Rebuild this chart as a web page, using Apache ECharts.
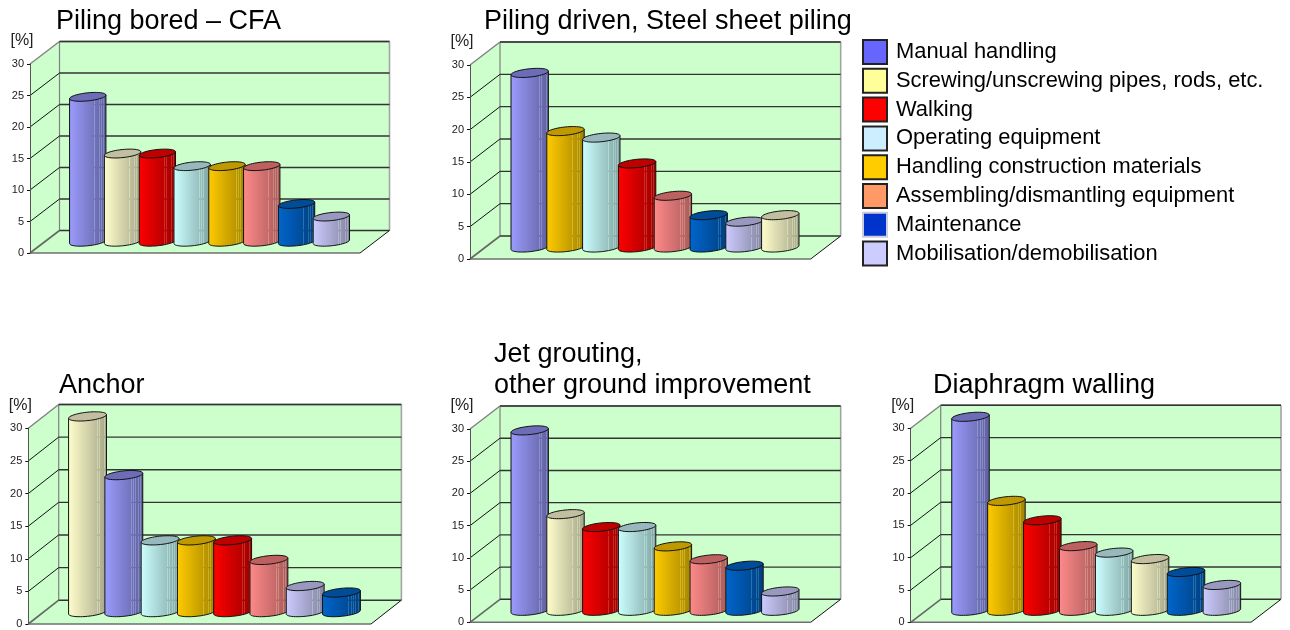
<!DOCTYPE html>
<html>
<head>
<meta charset="utf-8">
<title>Accident share by task</title>
<style>
  html, body { margin: 0; padding: 0; background: #fff; }
  #chart { width: 1290px; height: 630px; }
</style>
<script src="https://cdn.jsdelivr.net/npm/echarts@6/dist/echarts.min.js"></script>
</head>
<body>
<div id="chart"></div>
<script>
  const tasks = [
    "Manual handling",
    "Screwing/unscrewing pipes, rods, etc.",
    "Walking",
    "Operating equipment",
    "Handling construction materials",
    "Assembling/dismantling equipment",
    "Maintenance",
    "Mobilisation/demobilisation"
  ];
  const yTicks = [0, 5, 10, 15, 20, 25, 30];

  const titles = [
    "Piling bored – CFA",
    "Piling driven, Steel sheet piling",
    "Anchor",
    "Jet grouting,\nother ground improvement",
    "Diaphragm walling"
  ];

  // task index of each bar, left to right
  const pilingBoredOrder = [0, 1, 2, 3, 4, 5, 6, 7];
  const pilingDrivenOrder = [0, 4, 3, 2, 5, 6, 7, 1];
  const anchorOrder = [1, 0, 3, 4, 2, 5, 7, 6];
  const jetGroutingOrder = [0, 1, 2, 3, 4, 5, 6, 7];
  const diaphragmOrder = [0, 4, 2, 5, 3, 1, 6, 7];

  const pilingBoredValues = [23, 14, 14, 12, 12, 12, 6, 4];
  const pilingDrivenValues = [27, 18, 17, 13, 8, 5, 4, 5];
  const anchorValues = [30, 21, 11, 11, 11, 8, 4, 3];
  const jetGroutingValues = [28, 15, 13, 13, 10, 8, 7, 3];
  const diaphragmValues = [30, 17, 14, 10, 9, 8, 6, 4];

  const panelOrders = [pilingBoredOrder, pilingDrivenOrder, anchorOrder, jetGroutingOrder, diaphragmOrder];
  const panelValues = [pilingBoredValues, pilingDrivenValues, anchorValues, jetGroutingValues, diaphragmValues];

  // front plane of each 3d box, depth offset, and where the row of bars sits
  const boxes = [
    { left: 30, top: 64, width: 330, height: 189, dx: 29.5, dy: -22.5, barLeft: 70.35, barWidth: 278.4, titleLeft: 56, titleTop: 6 },
    { left: 470, top: 65, width: 340.7, height: 194, dx: 30, dy: -23, barLeft: 511.8, barWidth: 286.4, titleLeft: 484, titleTop: 6 },
    { left: 28.3, top: 428.3, width: 342.7, height: 195.7, dx: 30.4, dy: -23.8, barLeft: 69.4, barWidth: 290.2, titleLeft: 59, titleTop: 370 },
    { left: 470, top: 429, width: 340.7, height: 193.3, dx: 30, dy: -23, barLeft: 511.8, barWidth: 286.4, titleLeft: 494, titleTop: 339 },
    { left: 910.7, top: 428.3, width: 340.3, height: 194, dx: 30, dy: -23, barLeft: 952.55, barWidth: 287.3, titleLeft: 933, titleTop: 370 }
  ];

  // side colour at left and right edge, and lid colour
  const barColors = [
    ["#9c9cff", "#5f5f9e", "#6c6cb8"],
    ["#ffffcc", "#a5a58a", "#c2bfa0"],
    ["#ff0000", "#9c0000", "#bf0000"],
    ["#ccffff", "#80a2a2", "#97b9bd"],
    ["#ffcc00", "#a38300", "#bf9900"],
    ["#ff8a8a", "#a85a5a", "#bf6060"],
    ["#0066cc", "#003f7f", "#004c99"],
    ["#ccccff", "#83839f", "#9999bf"]
  ];
  const legendColors = ["#6666ff", "#ffff99", "#ff0000", "#cceeff", "#ffcc00", "#ff9966", "#0033cc", "#ccccff"];

  const FONT = "Liberation Sans";
  const WALL = "#ccffcc";
  const TILT = -6 * Math.PI / 180;

  const sideGradient = (left, right) => {
    const mix = t => echarts.color.lerp(t, [left, right]);
    const stops = [{ offset: 0, color: left }];
    // the original render has pale see-through bands on the right part of the cylinder
    [0.68, 0.74, 0.8, 0.86, 0.92].forEach(p => {
      const band = echarts.color.modifyAlpha(echarts.color.lift(mix(p), -0.1), 0.82);
      stops.push({ offset: p, color: mix(p) });
      stops.push({ offset: p, color: band });
      stops.push({ offset: p + 0.02, color: band });
      stops.push({ offset: p + 0.02, color: mix(p + 0.02) });
    });
    stops.push({ offset: 1, color: right });
    return { type: "linear", x: 0, y: 0, x2: 1, y2: 0, colorStops: stops };
  };

  const ellipsePoint = (cx, cy, a, b, t) => [
    cx + a * Math.cos(t) * Math.cos(TILT) - b * Math.sin(t) * Math.sin(TILT),
    cy + a * Math.cos(t) * Math.sin(TILT) + b * Math.sin(t) * Math.cos(TILT)
  ];

  const renderWalls = box => (params, api) => {
    const p00 = api.coord([0, 0]);
    const p10 = api.coord([1, 0]);
    const p01 = api.coord([0, 30]);
    const p11 = api.coord([1, 30]);
    const back = p => [p[0] + box.dx, p[1] + box.dy];
    const fill = points => ({ type: "polygon", shape: { points }, style: { fill: WALL, stroke: null } });
    const line = (a, b, stroke, lineWidth) => ({
      type: "line",
      shape: { x1: a[0], y1: a[1], x2: b[0], y2: b[1] },
      style: { stroke, lineWidth }
    });
    return {
      type: "group",
      children: [
        fill([p00, p01, back(p01), back(p00)]),
        fill([back(p00), back(p01), back(p11), back(p10)]),
        fill([p00, back(p00), back(p10), p10]),
        line(back(p00), back(p01), "#808080", 1.2),
        line(back(p01), back(p11), "#7c7c7c", 1.6),
        line(back(p11), back(p10), "#a4a4a4", 1.6),
        line(p00, p10, "#6f6f6f", 1.6),
        line(p10, back(p10), "#111", 1),
        line(p01, back(p01), "#808080", 1.4),
        line(p00, back(p00), "#666", 1.6)
      ]
    };
  };

  const renderWallLines = box => (params, api) => {
    const tick = api.value(0);
    const start = api.coord([0, tick]);
    const end = api.coord([1, tick]);
    const back = [start[0] + box.dx, start[1] + box.dy];
    const backEnd = [end[0] + box.dx, end[1] + box.dy];
    const children = [{
      type: "line",
      shape: { x1: back[0], y1: back[1], x2: backEnd[0], y2: backEnd[1] },
      style: { stroke: "#333", lineWidth: 1.4 }
    }];
    if (tick > 0 && tick < 30) {
      children.push({
        type: "line",
        shape: { x1: start[0], y1: start[1], x2: back[0], y2: back[1] },
        style: { stroke: "#111", lineWidth: 1 }
      });
    }
    return { type: "group", children };
  };

  const renderCylinder = order => (params, api) => {
    const slot = api.value(0);
    const colors = barColors[order[slot]];
    const top = api.coord([slot, api.value(1)]);
    const base = api.coord([slot, 0]);
    const a = api.size([1, 0])[0] * 0.525;
    const b = a * 0.22;
    const edge = Math.atan2(-b * Math.sin(TILT), a * Math.cos(TILT));

    const side = [];
    for (let i = 0; i <= 24; i++) {
      side.push(ellipsePoint(base[0], base[1], a, b, edge + Math.PI - Math.PI * i / 24));
    }
    side.push(ellipsePoint(top[0], top[1], a, b, edge));
    side.push(ellipsePoint(top[0], top[1], a, b, edge + Math.PI));

    const lid = [];
    for (let i = 0; i < 48; i++) {
      lid.push(ellipsePoint(top[0], top[1], a, b, i / 48 * Math.PI * 2));
    }

    return {
      type: "group",
      children: [
        { type: "polygon", shape: { points: side }, style: { fill: sideGradient(colors[0], colors[1]), stroke: "#111", lineWidth: 1 } },
        { type: "polygon", shape: { points: lid }, style: { fill: colors[2], stroke: "#111", lineWidth: 1 } }
      ]
    };
  };

  const grid = [];
  const xAxis = [];
  const yAxis = [];
  const series = [];

  boxes.forEach((box, i) => {
    const order = panelOrders[i];
    const frontIndex = grid.length;
    grid.push({ left: box.left, top: box.top, width: box.width, height: box.height, show: false });
    xAxis.push({ type: "value", gridIndex: frontIndex, min: 0, max: 1, show: false });
    yAxis.push({
      type: "value",
      gridIndex: frontIndex,
      min: 0,
      max: 30,
      interval: 5,
      z: 4,
      name: "[%]",
      nameLocation: "end",
      nameGap: 15,
      nameTextStyle: { fontFamily: FONT, fontSize: 16, color: "#222", align: "center", padding: [0, 16, 0, 0] },
      axisLine: { show: true, onZero: false, lineStyle: { color: "#555", width: 1 } },
      axisTick: { show: true, length: 3, lineStyle: { color: "#111", width: 1 } },
      axisLabel: { fontFamily: FONT, fontSize: 11, color: "#222", margin: 6, padding: [6, 0, 0, 0] },
      splitLine: { show: false }
    });

    // bars stand half way into the depth of the box
    const barIndex = grid.length;
    grid.push({ left: box.barLeft, top: box.top + box.dy / 2, width: box.barWidth, height: box.height, show: false });
    xAxis.push({ type: "category", gridIndex: barIndex, data: order.map(t => tasks[t]), show: false });
    yAxis.push({ type: "value", gridIndex: barIndex, min: 0, max: 30, show: false });

    series.push({
      type: "custom",
      xAxisIndex: frontIndex,
      yAxisIndex: frontIndex,
      z: 1,
      silent: true,
      renderItem: renderWalls(box),
      data: [[0]]
    });
    series.push({
      type: "custom",
      xAxisIndex: frontIndex,
      yAxisIndex: frontIndex,
      z: 2,
      silent: true,
      renderItem: renderWallLines(box),
      encode: { y: 0 },
      data: yTicks.map(t => [t])
    });
    series.push({
      type: "custom",
      name: titles[i],
      xAxisIndex: barIndex,
      yAxisIndex: barIndex,
      z: 3,
      silent: true,
      renderItem: renderCylinder(order),
      encode: { x: 0, y: 1 },
      data: panelValues[i].map((v, slot) => [slot, v])
    });
  });

  // empty series, only there to feed the legend
  tasks.forEach((name, i) => {
    series.push({
      type: "bar",
      name,
      xAxisIndex: 1,
      yAxisIndex: 1,
      data: [],
      itemStyle: {
        color: legendColors[i],
        borderColor: name === "Maintenance" ? "#ccd" : "#222",
        borderWidth: 1
      }
    });
  });

  const chart = echarts.init(document.getElementById("chart"), null, { renderer: "canvas" });
  chart.setOption({
    animation: false,
    backgroundColor: "#fff",
    title: boxes.map((box, i) => ({
      text: titles[i],
      left: box.titleLeft,
      top: box.titleTop,
      padding: 0,
      textStyle: { fontFamily: FONT, fontSize: 27, fontWeight: "normal", color: "#000", lineHeight: 31 }
    })),
    legend: {
      orient: "vertical",
      left: 862,
      top: 39,
      padding: 0,
      itemWidth: 24,
      itemHeight: 24,
      itemGap: 2.8,
      selectedMode: false,
      icon: "rect",
      data: tasks,
      textStyle: { fontFamily: FONT, fontSize: 21.9, color: "#000", lineHeight: 24, padding: [3, 0, 0, 4], height: 21 }
    },
    grid,
    xAxis,
    yAxis,
    series
  });
</script>
</body>
</html>
